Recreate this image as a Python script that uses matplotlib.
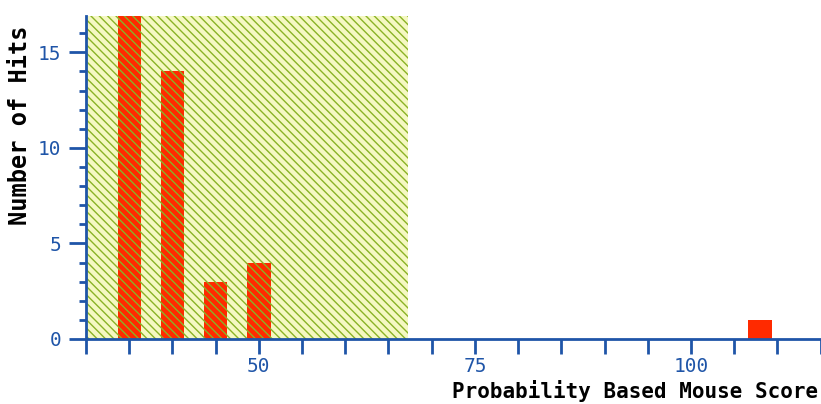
import matplotlib
matplotlib.use("Agg")
import matplotlib.pyplot as plt
from matplotlib.ticker import MultipleLocator, FixedLocator

# Data
scores = [35, 40, 45, 50, 108]
hits = [17, 14, 3, 4, 1]
major_x = [50, 75, 100]
major_x_labels = ["50", "75", "100"]
major_y = [0, 5, 10, 15]
shade_range = (30, 67.3)
bar_width = 2.7

blue = "#1f55a8"
plt.rcParams['hatch.linewidth'] = 1.0
plt.rcParams['font.family'] = ['DejaVu Sans Mono']

fig = plt.figure(figsize=(8.21, 4.04), dpi=100)
ax = fig.add_axes([86/821, 1 - 339/404, 1 - 86/821, (339-16)/404])

ax.axvspan(*shade_range, facecolor="#f5f8c2", edgecolor="none", zorder=0)
ax.bar(scores, hits, width=bar_width, color="#ff2a00", zorder=1, linewidth=0)
ax.axvspan(*shade_range, facecolor="none", edgecolor="#8ab226", hatch="\\\\\\\\",
           linewidth=0, zorder=2)

ax.set_xlim(30, 115.05)
ax.set_ylim(0, 16.9)

for s in ["top", "right"]:
    ax.spines[s].set_visible(False)
for s in ["left", "bottom"]:
    ax.spines[s].set_color(blue)
    ax.spines[s].set_linewidth(2)
    ax.spines[s].set_zorder(3)

ax.xaxis.set_major_locator(FixedLocator(major_x))
ax.set_xticklabels(major_x_labels)
ax.xaxis.set_minor_locator(MultipleLocator(5))
ax.yaxis.set_major_locator(FixedLocator(major_y))
ax.yaxis.set_minor_locator(MultipleLocator(1))

ax.tick_params(axis="x", which="both", direction="out", length=11, width=2,
               color=blue, labelcolor=blue, labelsize=14, pad=2)
ax.tick_params(axis="y", which="major", direction="out", length=12, width=2,
               color=blue, labelcolor=blue, labelsize=14, pad=6)
ax.tick_params(axis="y", which="minor", direction="out", length=5, width=2,
               color=blue)

fig.text(20/821, 1 - 125/404, "Number of Hits", rotation=90, ha="center",
         va="center", fontsize=17, fontweight="bold", color="black")
fig.text(818/821, 1 - 391/404, "Probability Based Mouse Score",
         ha="right", va="center", fontsize=15, fontweight="bold", color="black")

fig.savefig("out.png", dpi=100)
